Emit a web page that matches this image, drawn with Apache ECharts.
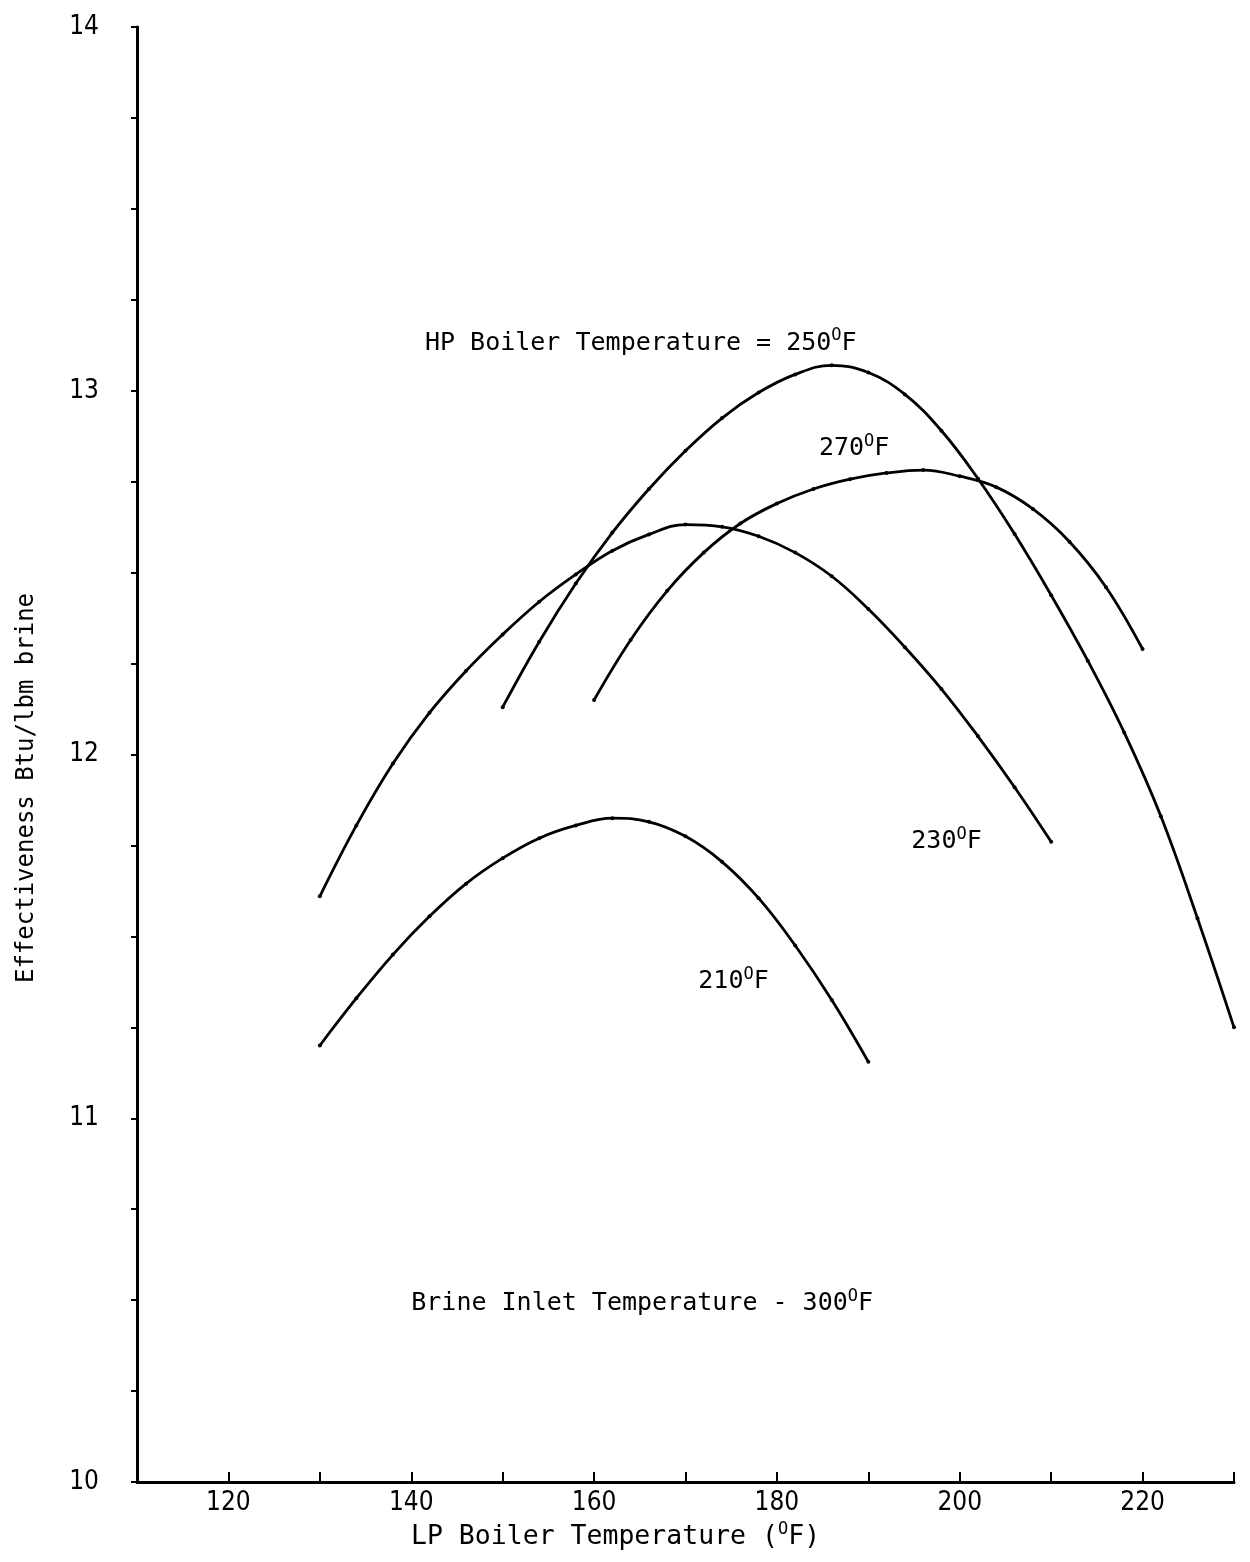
<!DOCTYPE html>
<html>
<head>
<meta charset="utf-8">
<script src="https://cdn.jsdelivr.net/npm/echarts@6.0.0/dist/echarts.min.js"></script>
<style>
html, body { margin: 0; padding: 0; background: #fff; }
#chart { width: 1250px; height: 1562px; }
</style>
</head>
<body>
<div id="chart"></div>
<script>
// LP boiler temperature (F) vs effectiveness (Btu/lbm brine), one curve per HP boiler temperature
var lp210 = [130, 134, 138, 142, 146, 150, 154, 158, 162, 166, 170, 174, 178, 182, 186, 190];
var eff210 = [11.20, 11.33, 11.45, 11.555, 11.645, 11.715, 11.77, 11.805, 11.825, 11.815, 11.775, 11.705, 11.605, 11.475, 11.325, 11.155];

var lp230 = [130, 134, 138, 142, 146, 150, 154, 158, 162, 166, 170, 174, 178, 182, 186, 190, 194, 198, 202, 206, 210];
var eff230 = [11.61, 11.805, 11.975, 12.115, 12.23, 12.33, 12.42, 12.495, 12.56, 12.605, 12.632, 12.626, 12.60, 12.555, 12.49, 12.40, 12.295, 12.18, 12.05, 11.91, 11.76];

var lp250 = [150, 154, 158, 162, 166, 170, 174, 178, 182, 186, 190, 194, 198, 202, 206, 210, 214, 218, 222, 226, 230];
var eff250 = [12.13, 12.31, 12.47, 12.61, 12.73, 12.835, 12.925, 12.995, 13.045, 13.07, 13.05, 12.99, 12.89, 12.758, 12.606, 12.438, 12.258, 12.06, 11.83, 11.55, 11.25];

var lp270 = [160, 164, 168, 172, 176, 180, 184, 188, 192, 196, 200, 204, 208, 212, 216, 220];
var eff270 = [12.15, 12.315, 12.45, 12.555, 12.635, 12.69, 12.73, 12.757, 12.774, 12.782, 12.765, 12.735, 12.675, 12.585, 12.46, 12.29];

var xLabels = [120, 140, 160, 180, 200, 220];
var yLabels = [10, 11, 12, 13, 14];

var mono = "'DejaVu Sans Mono', monospace";
var narrow = "'Liberation Sans Narrow', 'DejaVu Sans Condensed', sans-serif";

function pairs(xs, ys) {
    return xs.map(function (x, i) { return [x, ys[i]]; });
}

function curve(name, xs, ys) {
    return {
        name: name,
        type: 'line',
        smooth: 0.4,
        symbol: 'circle',
        symbolSize: 4,
        itemStyle: { color: '#000' },
        lineStyle: { color: '#000', width: 2.8 },
        data: pairs(xs, ys)
    };
}

var chart = echarts.init(document.getElementById('chart'));

var option = {
    animation: false,
    backgroundColor: '#fff',
    grid: { left: 137, right: 16, top: 27, bottom: 80 },
    xAxis: {
        type: 'value',
        min: 110,
        max: 230,
        interval: 10,
        axisLine: { show: true, lineStyle: { color: '#000', width: 3 } },
        axisTick: { inside: true, length: 10, lineStyle: { color: '#000', width: 2 } },
        splitLine: { show: false },
        axisLabel: {
            margin: 8,
            color: '#000',
            fontFamily: narrow,
            fontSize: 26,
            formatter: function (v) {
                return xLabels.indexOf(v) >= 0 ? String(v) : '';
            }
        }
    },
    yAxis: {
        type: 'value',
        min: 10,
        max: 14,
        interval: 0.25,
        axisLine: { show: true, lineStyle: { color: '#000', width: 3 } },
        axisTick: { show: true, length: 6, lineStyle: { color: '#000', width: 2 } },
        splitLine: { show: false },
        axisLabel: {
            margin: 38,
            color: '#000',
            fontFamily: narrow,
            fontSize: 26,
            formatter: function (v) {
                var r = Math.round(v);
                return (Math.abs(v - r) < 1e-6 && yLabels.indexOf(r) >= 0) ? String(r) : '';
            }
        }
    },
    series: [
        curve('210', lp210, eff210),
        curve('230', lp230, eff230),
        curve('250', lp250, eff250),
        curve('270', lp270, eff270)
    ]
};

chart.setOption(option);

// text notes, anchored at data coordinates (left edge, vertical middle)
var notes = [
    { pre: 'HP Boiler Temperature = 250', post: 'F', at: [141.5, 13.13] },
    { pre: '270', post: 'F', at: [184.6, 12.84] },
    { pre: '230', post: 'F', at: [194.7, 11.76] },
    { pre: '210', post: 'F', at: [171.4, 11.375] },
    { pre: 'Brine Inlet Temperature - 300', post: 'F', at: [140.0, 10.49] }
];

function richStyle(size) {
    return {
        t: { fontFamily: mono, fontSize: size, lineHeight: 32, color: '#000' },
        s: { fontFamily: mono, fontSize: Math.round(size * 0.66), lineHeight: 14, verticalAlign: 'top', color: '#000' }
    };
}

var graphics = notes.map(function (n) {
    var p = chart.convertToPixel({ gridIndex: 0 }, n.at);
    return {
        type: 'text',
        x: p[0],
        y: p[1],
        style: {
            text: '{t|' + n.pre + '}{s|O}{t|' + n.post + '}',
            rich: richStyle(25),
            align: 'left',
            verticalAlign: 'middle'
        }
    };
});

// axis titles
graphics.push({
    type: 'text',
    x: 411,
    y: 1537,
    style: {
        text: '{t|LP Boiler Temperature (}{s|O}{t|F)}',
        rich: richStyle(26.5),
        align: 'left',
        verticalAlign: 'middle'
    }
});
graphics.push({
    type: 'text',
    x: 27,
    y: 788,
    rotation: Math.PI / 2,
    style: {
        text: 'Effectiveness Btu/lbm brine',
        font: '24px ' + mono,
        fill: '#000',
        align: 'center',
        verticalAlign: 'middle'
    }
});

chart.setOption({ graphic: graphics });
</script>
</body>
</html>
